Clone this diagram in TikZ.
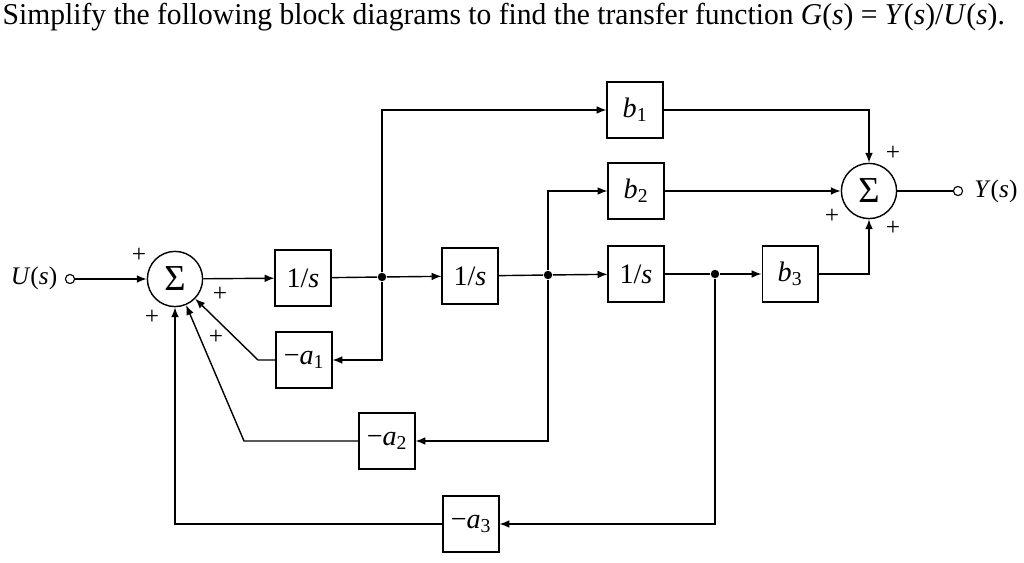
\documentclass[tikz,border=0pt]{standalone}
\usepackage{fontspec}
\setmainfont{Liberation Serif}
\usetikzlibrary{arrows.meta}

\begin{document}
\begin{tikzpicture}[x=0.025cm,y=-0.025cm,line width=1pt,
  block/.style={rectangle,draw,minimum size=1.39cm,inner sep=0pt,font=\fontsize{20}{22}\selectfont},
  sum/.style={circle,draw,minimum size=1.38cm,inner sep=0pt,font=\fontsize{26}{26}\selectfont},
  junc/.style={circle,fill,inner sep=0pt,minimum size=6pt},
  port/.style={circle,draw,inner sep=0pt,minimum size=6.5pt,line width=0.8pt},
  sgn/.style={font=\fontsize{18}{18}\selectfont,inner sep=0pt},
  >={Latex[length=7pt,width=5.5pt]}]
\useasboundingbox (0,0) rectangle (1024,563);

\node[anchor=base west,inner sep=0pt] (title) at (2,25)
  {\resizebox{25.05cm}{\height}{\fontsize{21.5}{24}\selectfont Simplify the following block diagrams to find the transfer function \textit{G}(\textit{s})~=~\textit{Y}(\textit{s})/\textit{U}(\textit{s}).}};

\node[port] (u) at (70,279) {};
\node[font=\fontsize{18}{18}\selectfont] (ulab) at (34,278) {\textit{U}(\textit{s})};
\node[sum] (s1) at (175,279) {Σ};
\node[block] (i1) at (303,278) {1/\textit{s}};
\node[junc] (d1) at (382,277) {};
\node[block] (i2) at (470,276) {1/\textit{s}};
\node[junc] (d2) at (548,275) {};
\node[block] (i3) at (636,274) {1/\textit{s}};
\node[junc] (d3) at (715,274) {};
\node[block] (b3) at (790,274) {\textit{b}\textsubscript{3}};
\node[block] (b1) at (635,110) {\textit{b}\textsubscript{1}};
\node[block] (b2) at (636,191) {\textit{b}\textsubscript{2}};
\node[sum] (s2) at (869,191) {Σ};
\node[port] (y) at (958,191) {};
\node[anchor=west,font=\fontsize{18}{18}\selectfont] (ylab) at (969,191) {\textit{Y}(\textit{s})};
\node[block] (a1) at (304,360) {−\textit{a}\textsubscript{1}};
\node[block] (a2) at (387,441) {−\textit{a}\textsubscript{2}};
\node[block] (a3) at (471,524) {−\textit{a}\textsubscript{3}};

\coordinate (k1) at (258,360);
\coordinate (k2) at (244,441);

\draw[->] (u) -- (s1);
\draw[->] (s1) -- (i1);
\draw (i1) -- (d1);
\draw[->] (d1) -- (i2);
\draw (i2) -- (d2);
\draw[->] (d2) -- (i3);
\draw (i3) -- (d3);
\draw[->] (d3) -- (b3);
\draw[->] (d1) |- (b1);
\draw[->] (d1) |- (a1);
\draw[->] (d2) |- (b2);
\draw[->] (d2) |- (a2);
\draw[->] (d3) |- (a3);
\draw[->] (b1) -| (s2);
\draw[->] (b2) -- (s2);
\draw[->] (b3) -| (s2);
\draw (s2) -- (y);
\draw[->] (a1) -- (k1) -- (s1);
\draw[->] (a2) -- (k2) -- (s1);
\draw[->] (a3) -| (s1);

\node[sgn] (p1) at (139,255) {+};
\node[sgn] (p2) at (220,294) {+};
\node[sgn] (p3) at (152,317) {+};
\node[sgn] (p4) at (216,337) {+};
\node[sgn] (p5) at (893,153) {+};
\node[sgn] (p6) at (832,216) {+};
\node[sgn] (p7) at (893,228) {+};
\end{tikzpicture}
\end{document}
